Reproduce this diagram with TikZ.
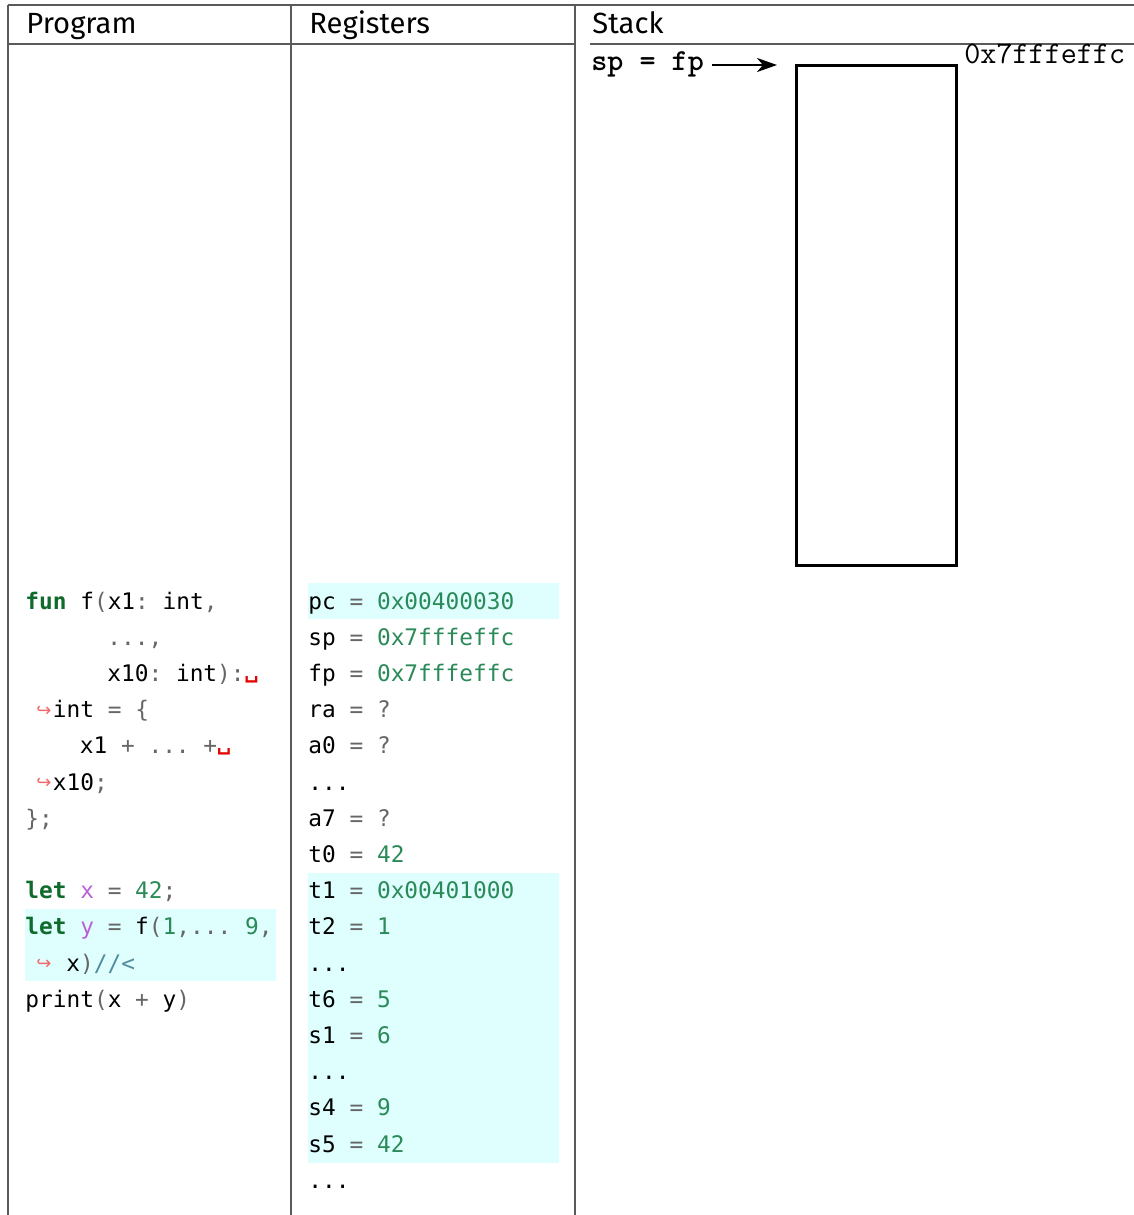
\documentclass[tikz,border=0pt]{standalone}
\usepackage{fontspec}
\newfontfamily\codett{DejaVu Sans Mono}
\newfontfamily\hdfont{Fira Sans}
\newfontfamily\symfont{DejaVu Sans}
\usetikzlibrary{arrows.meta}
\definecolor{kwc}{HTML}{0E6B2C}
\definecolor{opc}{HTML}{666666}
\definecolor{nmc}{HTML}{2A8A58}
\definecolor{vrc}{HTML}{BB60D5}
\definecolor{cmc}{HTML}{4F8C9C}
\definecolor{hlc}{HTML}{DFFFFF}
\definecolor{wrc}{HTML}{F06868}
\definecolor{rulec}{HTML}{5A5A5A}
\newcommand\codefont{\codett\fontsize{11.4}{13}\selectfont\frenchspacing}
\newcommand\kw[1]{\textcolor{kwc}{\textbf{#1}}}
\newcommand\op[1]{\textcolor{opc}{#1}}
\newcommand\nm[1]{\textcolor{nmc}{#1}}
\newcommand\vr[1]{\textcolor{vrc}{#1}}
\newcommand\cm[1]{\textcolor{cmc}{#1}}
\tikzset{
  code/.style={anchor=base west, inner sep=0pt, font=\codefont},
  wrapmark/.style={inner sep=0pt, text=wrc, font=\symfont\fontsize{9}{10}\selectfont},
  vsp/.style={inner sep=0pt, text=red!90!black, font=\symfont\bfseries\fontsize{10}{11}\selectfont},
  head/.style={anchor=base west, inner sep=0pt, font=\hdfont\fontsize{14.6}{16}\selectfont},
  rule/.style={draw=rulec, line width=0.7pt},
  hl/.style={fill=hlc, draw=none},
}
\begin{document}
\begin{tikzpicture}[x=0.5pt, y=-0.5pt]
\useasboundingbox (0,0) rectangle (1134,1215);
% highlights
\fill[hl] (308,583) rectangle (559,619);
\fill[hl] (308,873) rectangle (559,1163);
\fill[hl] (25,909) rectangle (276,981);
% table rules
\draw[rule] (8,5) -- (1134,5);
\draw[rule] (8,44) -- (575,44);
\draw[rule] (590,44) -- (1134,44);
\draw[rule] (8,5) -- (8,1215);
\draw[rule] (291,5) -- (291,1215);
\draw[rule] (575,5) -- (575,1215);
% headers
\node[head] (hprog) at (26,33) {Program};
\node[head] (hreg) at (309,33) {Registers};
\node[head] (hstack) at (592,33) {Stack};
% program
\node[code] (p0) at (25,609) {\kw{fun} f\op{(}x1\op{:} int\op{,}};
\node[code] (p1) at (107,645.2) {\op{...,}};
\node[code] (p2) at (107,681.4) {x10\op{:} int\op{):}};
\node[vsp] (p2w) at (251.5,680) {␣};
\node[wrapmark] (p3w) at (44,711) {↪};
\node[code] (p3) at (52.5,717.6) {int \op{=} \op{\{}};
\node[code] (p4) at (79.5,753.8) {x1 \op{+ ... +}};
\node[vsp] (p4w) at (224,752) {␣};
\node[wrapmark] (p5w) at (44,783.5) {↪};
\node[code] (p5) at (52.5,790) {x10\op{;}};
\node[code] (p6) at (25,826.2) {\op{\};}};
\node[code] (p8) at (25,898.6) {\kw{let} \vr{x} \op{=} \nm{42}\op{;}};
\node[code] (p9) at (25,934.8) {\kw{let} \vr{y} \op{=} f\op{(}\nm{1}\op{,...} \nm{9}\op{,}};
\node[wrapmark] (p10w) at (44,964.5) {↪};
\node[code] (p10) at (66,971) {x\op{)}\cm{//<}};
\node[code] (p11) at (25,1007.2) {print\op{(}x \op{+} y\op{)}};
% registers
\node[code] (r0) at (308,609) {pc \op{=} \nm{0x00400030}};
\node[code] (r1) at (308,645.2) {sp \op{=} \nm{0x7fffeffc}};
\node[code] (r2) at (308,681.4) {fp \op{=} \nm{0x7fffeffc}};
\node[code] (r3) at (308,717.6) {ra \op{=} \op{?}};
\node[code] (r4) at (308,753.8) {a0 \op{=} \op{?}};
\node[code] (r5) at (308,790) {...};
\node[code] (r6) at (308,826.2) {a7 \op{=} \op{?}};
\node[code] (r7) at (308,862.4) {t0 \op{=} \nm{42}};
\node[code] (r8) at (308,898.6) {t1 \op{=} \nm{0x00401000}};
\node[code] (r9) at (308,934.8) {t2 \op{=} \nm{1}};
\node[code] (r10) at (308,971) {...};
\node[code] (r11) at (308,1007.2) {t6 \op{=} \nm{5}};
\node[code] (r12) at (308,1043.4) {s1 \op{=} \nm{6}};
\node[code] (r13) at (308,1079.6) {...};
\node[code] (r14) at (308,1115.8) {s4 \op{=} \nm{9}};
\node[code] (r15) at (308,1152) {s5 \op{=} \nm{42}};
\node[code] (r16) at (308,1188.2) {...};
% stack
\draw[line width=1.5pt] (796,65) rectangle (956,565);
\node[anchor=base west, inner sep=0pt, font=\ttfamily\fontsize{15.6}{17}\selectfont] (addr) at (964,63) {0x7fffeffc};
\node[anchor=base west, inner sep=0pt, font=\ttfamily\bfseries\fontsize{15.3}{17}\selectfont] (spfp) at (591,70) {sp = fp};
\coordinate (arrend) at (777,65);
\draw[line width=1.3pt, -{Stealth[length=10pt, width=7pt, inset=3pt]}] ([xshift=4pt]spfp.east |- arrend) -- (arrend);
\end{tikzpicture}
\end{document}
